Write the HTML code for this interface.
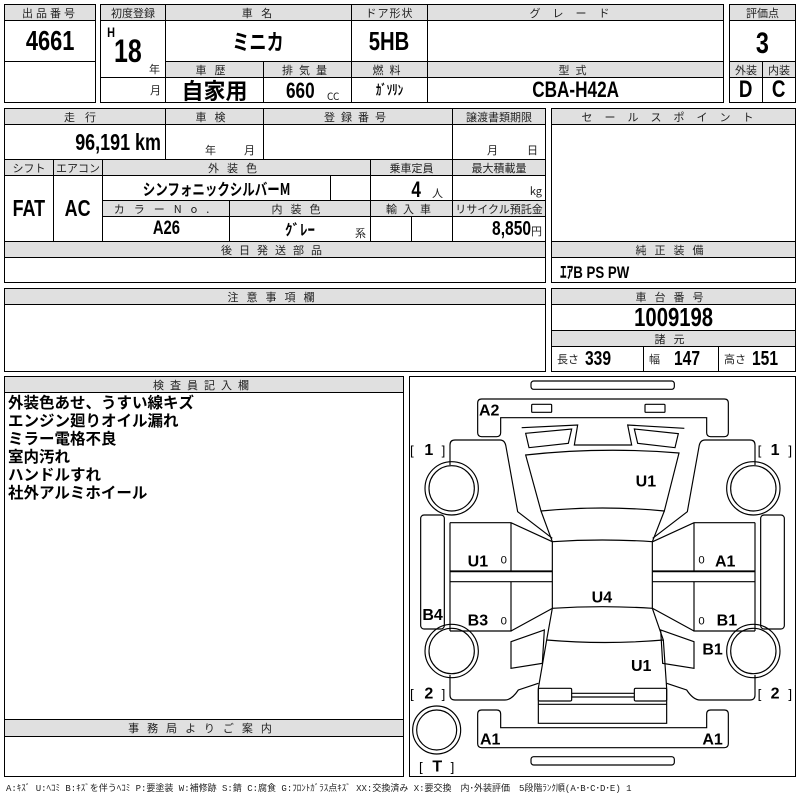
<!DOCTYPE html>
<html><head><meta charset="utf-8">
<style>
*{margin:0;padding:0;box-sizing:border-box}
body{width:800px;height:800px;background:#fff;position:relative;overflow:hidden;font-family:"Liberation Sans","Noto Sans CJK JP",sans-serif;color:#000}
.c{position:absolute;border:1px solid #000;display:flex;align-items:center;justify-content:center;white-space:nowrap}
.h{background:#e0e0e0;font-size:11px;color:#222;letter-spacing:3px;font-family:"Noto Sans CJK JP",sans-serif}
.v{font-family:"Liberation Sans","Noto Sans CJK JP",sans-serif;font-weight:bold}
.n{display:inline-block;transform:scaleX(.78)}
.nr{display:inline-block;transform:scaleX(.78);transform-origin:right center}
.j{font-family:"Noto Sans CJK JP",sans-serif;font-weight:bold}
.s{font-size:11px;font-family:"Noto Sans CJK JP",sans-serif;font-weight:normal;color:#222}
.t{position:absolute;white-space:nowrap}
</style></head><body>

<!-- box 1 -->
<div class="c h" style="left:4px;top:4px;width:92px;height:17px">出品番号</div>
<div class="c v" style="left:4px;top:20px;width:92px;height:42px;font-size:28px"><span class="n">4661</span></div>
<div class="c" style="left:4px;top:61px;width:92px;height:42px"></div>

<!-- box 2 -->
<div class="c h" style="left:100px;top:4px;width:66px;height:17px;letter-spacing:0">初度登録</div>
<div class="c h" style="left:165px;top:4px;width:187px;height:17px">車 名</div>
<div class="c h" style="left:351px;top:4px;width:77px;height:17px;letter-spacing:1px">ドア形状</div>
<div class="c h" style="left:427px;top:4px;width:297px;height:17px;letter-spacing:12px">グレード</div>
<div class="c" style="left:100px;top:20px;width:66px;height:58px"></div>
<div class="t v" style="left:106px;top:24px;font-size:14px"><span class="n">H</span></div>
<div class="t v" style="left:114px;top:33px;font-size:32px"><span class="n" style="transform-origin:left center">18</span></div>
<div class="t s" style="left:149px;top:61px">年</div>
<div class="c j" style="left:165px;top:20px;width:187px;height:42px;font-size:22px"><span class="n">ミニカ</span></div>
<div class="c v" style="left:351px;top:20px;width:77px;height:42px;font-size:26px"><span class="n">5HB</span></div>
<div class="c" style="left:427px;top:20px;width:297px;height:42px"></div>
<div class="c h" style="left:165px;top:61px;width:99px;height:17px;letter-spacing:8px">車歴</div>
<div class="c h" style="left:263px;top:61px;width:89px;height:17px;letter-spacing:6px">排気量</div>
<div class="c h" style="left:351px;top:61px;width:77px;height:17px;letter-spacing:6px">燃料</div>
<div class="c h" style="left:427px;top:61px;width:297px;height:17px;letter-spacing:6px">型式</div>
<div class="c" style="left:100px;top:77px;width:66px;height:26px;justify-content:flex-end;padding-right:4px"><span class="s">月</span></div>
<div class="c j" style="left:165px;top:77px;width:99px;height:26px;font-size:22px">自家用</div>
<div class="c" style="left:263px;top:77px;width:89px;height:26px"></div>
<div class="t v" style="left:286px;top:78px;font-size:22px"><span class="n" style="transform-origin:left center">660</span></div>
<div class="t s" style="left:327px;top:88px;font-size:10px">CC</div>
<div class="c j" style="left:351px;top:77px;width:77px;height:26px;font-size:14px"><span class="n">ｶﾞｿﾘﾝ</span></div>
<div class="c v" style="left:427px;top:77px;width:297px;height:26px;font-size:22px"><span class="n">CBA-H42A</span></div>

<!-- score -->
<div class="c h" style="left:729px;top:4px;width:67px;height:17px;letter-spacing:0">評価点</div>
<div class="c v" style="left:729px;top:20px;width:67px;height:42px;font-size:30px;padding-top:6px"><span class="n">3</span></div>
<div class="c h" style="left:729px;top:61px;width:34px;height:17px;letter-spacing:0">外装</div>
<div class="c h" style="left:762px;top:61px;width:34px;height:17px;letter-spacing:0">内装</div>
<div class="c v" style="left:729px;top:77px;width:34px;height:26px;font-size:24px"><span class="n">D</span></div>
<div class="c v" style="left:762px;top:77px;width:34px;height:26px;font-size:24px"><span class="n">C</span></div>

<!-- section 2 -->
<div class="c h" style="left:4px;top:108px;width:162px;height:17px;letter-spacing:10px">走行</div>
<div class="c h" style="left:165px;top:108px;width:99px;height:17px;letter-spacing:8px">車検</div>
<div class="c h" style="left:263px;top:108px;width:190px;height:17px;letter-spacing:6px">登録番号</div>
<div class="c h" style="left:452px;top:108px;width:94px;height:17px;letter-spacing:0">譲渡書類期限</div>
<div class="c v" style="left:4px;top:124px;width:162px;height:36px;font-size:23px;justify-content:flex-end;padding-right:4px"><span class="nr">96,191 km</span></div>
<div class="c" style="left:165px;top:124px;width:99px;height:36px"></div>
<div class="t s" style="left:205px;top:142px">年</div><div class="t s" style="left:244px;top:142px">月</div>
<div class="c" style="left:263px;top:124px;width:190px;height:36px"></div>
<div class="c" style="left:452px;top:124px;width:94px;height:36px"></div>
<div class="t s" style="left:487px;top:142px">月</div><div class="t s" style="left:527px;top:142px">日</div>

<div class="c h" style="left:4px;top:159px;width:50px;height:17px;letter-spacing:0">シフト</div>
<div class="c h" style="left:53px;top:159px;width:50px;height:17px;letter-spacing:0">エアコン</div>
<div class="c h" style="left:102px;top:159px;width:269px;height:17px;letter-spacing:8px">外装色</div>
<div class="c h" style="left:370px;top:159px;width:83px;height:17px;letter-spacing:0">乗車定員</div>
<div class="c h" style="left:452px;top:159px;width:94px;height:17px;letter-spacing:0">最大積載量</div>
<div class="c v" style="left:4px;top:175px;width:50px;height:67px;font-size:23px"><span class="n">FAT</span></div>
<div class="c v" style="left:53px;top:175px;width:50px;height:67px;font-size:23px"><span class="n">AC</span></div>
<div class="c j" style="left:102px;top:175px;width:229px;height:26px;font-size:16px"><span class="n">シンフォニックシルバーM</span></div>
<div class="c" style="left:330px;top:175px;width:41px;height:26px"></div>
<div class="c" style="left:370px;top:175px;width:83px;height:26px"></div>
<div class="t v" style="left:410px;top:177px;font-size:22px"><span class="n">4</span></div><div class="t s" style="left:432px;top:185px">人</div>
<div class="c" style="left:452px;top:175px;width:94px;height:26px;justify-content:flex-end;padding-right:3px;padding-top:6px"><span class="s">kg</span></div>
<div class="c h" style="left:102px;top:200px;width:128px;height:17px;letter-spacing:9px">カラーNo.</div>
<div class="c h" style="left:229px;top:200px;width:142px;height:17px;letter-spacing:8px">内装色</div>
<div class="c h" style="left:370px;top:200px;width:83px;height:17px;letter-spacing:6px">輸入車</div>
<div class="c h" style="left:452px;top:200px;width:94px;height:17px;letter-spacing:0">リサイクル預託金</div>
<div class="c v" style="left:102px;top:216px;width:128px;height:26px;font-size:19px"><span class="n">A26</span></div>
<div class="c j" style="left:229px;top:216px;width:142px;height:26px;font-size:15px">ｸﾞﾚｰ</div>
<div class="t s" style="left:355px;top:225px">系</div>
<div class="c" style="left:370px;top:216px;width:42px;height:26px"></div>
<div class="c" style="left:411px;top:216px;width:42px;height:26px"></div>
<div class="c v" style="left:452px;top:216px;width:94px;height:26px;font-size:20px;justify-content:flex-end;padding-right:3px"><span class="nr">8,850</span><span class="s" style="font-size:11px;margin-top:4px">円</span></div>
<div class="c h" style="left:4px;top:241px;width:542px;height:17px;letter-spacing:7px">後日発送部品</div>
<div class="c" style="left:4px;top:257px;width:542px;height:26px"></div>

<div class="c h" style="left:551px;top:108px;width:245px;height:17px;letter-spacing:12px">セールスポイント</div>
<div class="c" style="left:551px;top:124px;width:245px;height:118px"></div>
<div class="c h" style="left:551px;top:241px;width:245px;height:17px;letter-spacing:8px">純正装備</div>
<div class="c v" style="left:551px;top:257px;width:245px;height:26px;font-size:17px;justify-content:flex-start;padding-left:8px"><span class="n" style="transform-origin:left center">ｴｱB PS PW</span></div>

<!-- section 3 -->
<div class="c h" style="left:4px;top:288px;width:542px;height:17px;letter-spacing:8px">注意事項欄</div>
<div class="c" style="left:4px;top:304px;width:542px;height:68px"></div>
<div class="c h" style="left:551px;top:288px;width:245px;height:17px;letter-spacing:8px">車台番号</div>
<div class="c v" style="left:551px;top:304px;width:245px;height:27px;font-size:26px"><span class="n">1009198</span></div>
<div class="c h" style="left:551px;top:330px;width:245px;height:17px;letter-spacing:8px">諸元</div>
<div class="c" style="left:551px;top:346px;width:93px;height:26px;justify-content:flex-start;padding-left:5px"><span class="s">長さ</span><span class="v n" style="font-size:20px;margin-left:6px;transform-origin:left center">339</span></div>
<div class="c" style="left:643px;top:346px;width:76px;height:26px;justify-content:flex-start;padding-left:5px"><span class="s">幅</span><span class="v n" style="font-size:20px;margin-left:14px;transform-origin:left center">147</span></div>
<div class="c" style="left:718px;top:346px;width:78px;height:26px;justify-content:flex-start;padding-left:5px"><span class="s">高さ</span><span class="v n" style="font-size:20px;margin-left:6px;transform-origin:left center">151</span></div>

<!-- section 4 -->
<div class="c h" style="left:4px;top:376px;width:400px;height:17px;letter-spacing:6px">検査員記入欄</div>
<div class="c" style="left:4px;top:392px;width:400px;height:328px"></div>
<div class="t j" style="left:8px;top:393px;font-size:15.5px;line-height:18px">外装色あせ、うすい線キズ<br>エンジン廻りオイル漏れ<br>ミラー電格不良<br>室内汚れ<br>ハンドルすれ<br>社外アルミホイール</div>
<div class="c h" style="left:4px;top:719px;width:400px;height:18px;letter-spacing:8px">事務局よりご案内</div>
<div class="c" style="left:4px;top:736px;width:400px;height:41px"></div>

<div class="c" style="left:409px;top:376px;width:387px;height:401px"></div>
<svg style="position:absolute;left:405px;top:375px" width="395" height="420" viewBox="0 0 1185 1260">
<g fill="none" stroke="#000" stroke-width="3.5">
<rect x="378" y="18" width="430" height="25" rx="8"/>
<rect x="378" y="1145" width="430" height="25" rx="8"/>
<path d="M230,72 L958,72 Q970,72 970,84 L970,173 Q970,185 958,185 L917,185 Q905,185 905,173 L905,128 L287,128 L287,173 Q287,185 275,185 L230,185 Q218,185 218,173 L218,84 Q218,72 230,72 Z"/>
<path d="M230,1005 L275,1005 Q287,1005 287,1017 L287,1058 L905,1058 L905,1017 Q905,1005 917,1005 L958,1005 Q970,1005 970,1017 L970,1106 Q970,1118 958,1118 L230,1118 Q218,1118 218,1106 L218,1017 Q218,1005 230,1005 Z"/>
<rect x="380" y="88" width="60" height="24" rx="3"/>
<rect x="720" y="88" width="60" height="24" rx="3"/>
<path d="M350,158 L518,150 L508,210 L680,210 L668,150 L838,160"/>
<path d="M362,175 L500,162 L490,205 L372,218 Z"/>
<path d="M688,162 L820,176 L810,218 L698,205 Z"/>
<path d="M362,240 Q592,215 822,234 L778,408 Q592,390 408,408 Z"/>
<path d="M408,408 L442,500 Q592,490 742,500 L778,408"/>
<path d="M442,500 L442,700 Q592,690 742,700 L742,500"/>
<path d="M442,700 L425,795 Q600,810 775,795 L742,700"/>
<path d="M425,795 L400,940 L400,1045 L785,1045 L785,940 L775,795"/>
<rect x="400" y="940" width="100" height="38" rx="4"/>
<rect x="688" y="940" width="97" height="38" rx="4"/>
<path d="M500,955 L688,955 M500,966 L688,966 M400,988 L785,988"/>
<g id="side">
<path d="M135,270 L135,210 Q135,195 150,195 L285,195 Q300,195 303,215 L338,410 L442,490"/>
<circle cx="140" cy="340" r="80"/><circle cx="140" cy="340" r="68"/>
<circle cx="140" cy="828" r="80"/><circle cx="140" cy="828" r="68"/>
<rect x="47" y="420" width="71" height="342" rx="10"/>
<path d="M135,443 L318,443 L442,500 M318,443 L318,588 L442,588 M135,443 L135,768 M135,588 L318,588 M135,590 L442,590 M135,620 L442,620 M318,620 L318,768 L135,768 M318,768 L442,700"/>
<path d="M318,800 L418,765 L412,865 L318,880 Z"/>
<path d="M135,900 L135,960 Q135,975 150,975 L300,975 Q320,975 340,945 L400,925"/>
</g>
<use href="#side" transform="translate(1185,0) scale(-1,1)"/>
<circle cx="95" cy="1065" r="72"/><circle cx="95" cy="1065" r="60"/>
</g>
<g font-family="Liberation Sans, sans-serif" font-weight="bold" font-size="48" fill="#000">
<text x="222" y="122">A2</text>
<text x="692" y="335">U1</text>
<text x="188" y="575">U1</text>
<text x="930" y="575">A1</text>
<text x="560" y="682">U4</text>
<text x="52" y="735">B4</text>
<text x="188" y="752">B3</text>
<text x="935" y="752">B1</text>
<text x="892" y="838">B1</text>
<text x="678" y="888">U1</text>
<text x="225" y="1108">A1</text>
<text x="892" y="1108">A1</text>
<text x="58" y="240">1</text>
<text x="1097" y="240">1</text>
<text x="58" y="970">2</text>
<text x="1097" y="970">2</text>
<text x="82" y="1190">T</text>
</g>
<g font-family="Liberation Sans, sans-serif" font-size="40" fill="#000">
<text x="15" y="240">[</text><text x="110" y="240">]</text>
<text x="1058" y="240">[</text><text x="1150" y="240">]</text>
<text x="15" y="970">[</text><text x="110" y="970">]</text>
<text x="1058" y="970">[</text><text x="1150" y="970">]</text>
<text x="42" y="1190">[</text><text x="137" y="1190">]</text>
</g>
<g font-family="Liberation Sans, sans-serif" font-size="34" fill="#000">
<text x="287" y="565">0</text><text x="880" y="565">0</text>
<text x="287" y="748">0</text><text x="880" y="748">0</text>
</g>
</svg>

<div class="t" style="left:6px;top:781px;font-size:9px;color:#222;font-family:'Liberation Mono','Noto Sans CJK JP',monospace">A:ｷｽﾞ U:ﾍｺﾐ B:ｷｽﾞを伴うﾍｺﾐ P:要塗装 W:補修跡 S:錆 C:腐食 G:ﾌﾛﾝﾄｶﾞﾗｽ点ｷｽﾞ XX:交換済み X:要交換　内･外装評価　5段階ﾗﾝｸ順(A･B･C･D･E) 1</div>
</body></html>
